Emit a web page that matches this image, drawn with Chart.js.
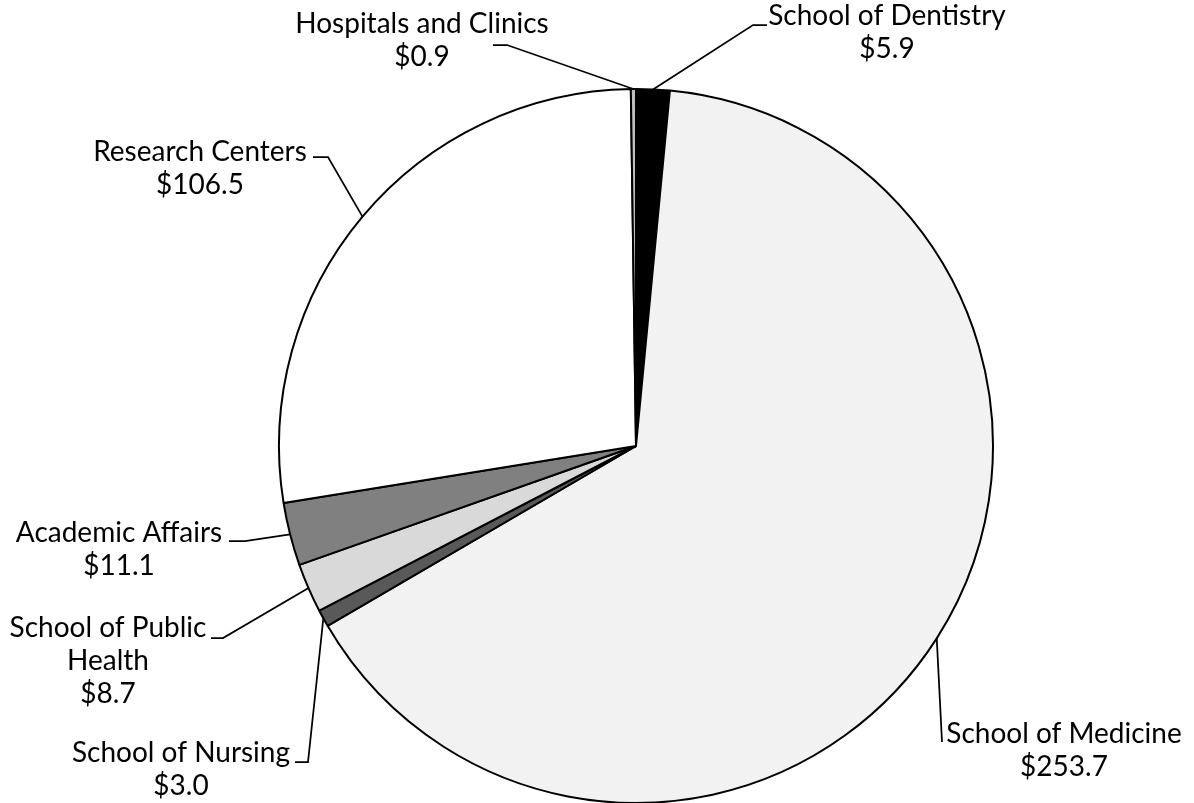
<!DOCTYPE html>
<html>
<head>
<meta charset="utf-8">
<title>Funding by unit</title>
<script src="https://cdn.jsdelivr.net/npm/chart.js@4/dist/chart.umd.min.js"></script>
<style>
    html, body { margin: 0; padding: 0; background: #ffffff; }
    #chart { display: block; }
</style>
</head>
<body>
<canvas id="chart" width="1194" height="803"></canvas>
<script>
// Data (millions of dollars), clockwise from 12 o'clock
const categories = [
    'School of Dentistry',
    'School of Medicine',
    'School of Nursing',
    ['School of Public', 'Health'],
    'Academic Affairs',
    'Research Centers',
    'Hospitals and Clinics'
];
const values = [5.9, 253.7, 3.0, 8.7, 11.1, 106.5, 0.9];
const sliceColors = ['#000000', '#f2f2f2', '#595959', '#d9d9d9', '#808080', '#ffffff', '#bfbfbf'];

// Where each label sits: text centre x, first baseline, and the leader elbow
const labelLayout = [
    { x: 887, y: 25, from: [767, 25], elbow: [753, 25] },
    { x: 1064, y: 743, from: [942, 742], elbow: null },
    { x: 181, y: 762, from: [295, 762], elbow: [308, 762] },
    { x: 108, y: 637, from: [211, 638], elbow: [223, 638] },
    { x: 119, y: 542, from: [229, 541], elbow: [245, 541] },
    { x: 200, y: 161, from: [313, 157], elbow: [328, 157] },
    { x: 422, y: 33, from: [493, 45], elbow: [507, 45] }
];

const FONT = '28px Lato';
const LINE_HEIGHT = 33;

// Draws the callout labels with leader lines to the middle of each arc
const calloutPlugin = {
    id: 'callouts',
    afterDatasetsDraw(chart) {
        const ctx = chart.ctx;
        const arcs = chart.getDatasetMeta(0).data;
        ctx.save();
        ctx.strokeStyle = '#000000';
        ctx.lineWidth = 1.75;
        arcs.forEach((arc, i) => {
            const pos = labelLayout[i];
            const props = arc.getProps(['x', 'y', 'startAngle', 'endAngle', 'outerRadius'], true);
            const mid = (props.startAngle + props.endAngle) / 2;
            const ax = props.x + Math.cos(mid) * props.outerRadius;
            const ay = props.y + Math.sin(mid) * props.outerRadius;

            ctx.beginPath();
            ctx.moveTo(pos.from[0], pos.from[1]);
            if (pos.elbow) ctx.lineTo(pos.elbow[0], pos.elbow[1]);
            ctx.lineTo(ax, ay);
            ctx.stroke();

            const label = categories[i];
            const lines = (Array.isArray(label) ? label.slice() : [label]);
            lines.push('$' + values[i].toFixed(1));
            ctx.fillStyle = '#000000';
            ctx.font = FONT;
            ctx.textAlign = 'center';
            ctx.textBaseline = 'alphabetic';
            lines.forEach((line, k) => {
                ctx.fillText(line, pos.x, pos.y + k * LINE_HEIGHT);
            });
        });
        ctx.restore();
    }
};

new Chart(document.getElementById('chart'), {
    type: 'pie',
    data: {
        labels: categories,
        datasets: [{
            data: values,
            backgroundColor: sliceColors,
            borderColor: '#000000',
            borderWidth: 2,
            radius: 357
        }]
    },
    options: {
        responsive: false,
        animation: false,
        devicePixelRatio: 1,
        layout: {
            padding: { left: 78, right: 0, top: 89, bottom: 0 }
        },
        plugins: {
            legend: { display: false },
            tooltip: { enabled: false }
        }
    },
    plugins: [calloutPlugin]
});
</script>
</body>
</html>
